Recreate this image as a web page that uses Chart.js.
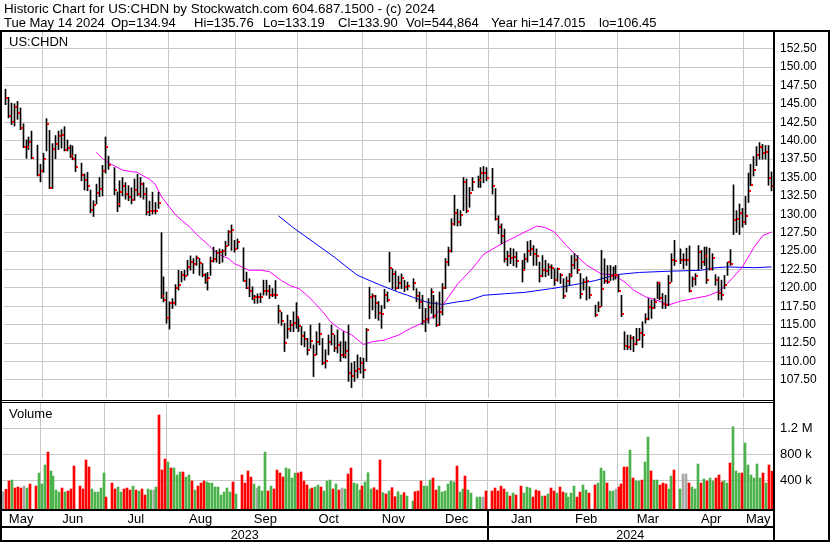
<!DOCTYPE html>
<html>
<head>
<meta charset="utf-8">
<script src="https://cdn.jsdelivr.net/npm/chart.js@4.4.1/dist/chart.umd.min.js"></script>
<style>
  html, body { margin: 0; padding: 0; background: #ffffff; }
  #wrap { position: relative; width: 830px; height: 543px; overflow: hidden; background: #ffffff; }
  #wrap canvas { position: absolute; left: 0; }
  #priceCanvas { top: 0; }
  #volCanvas { top: 400px; }
</style>
</head>
<body>
<div id="wrap">
  <canvas id="priceCanvas" width="830" height="402"></canvas>
  <canvas id="volCanvas" width="830" height="143"></canvas>
</div>
<script>
// ================= DATA (one entry per weekday, 15 May 2023 .. 14 May 2024; null = market holiday) =================
const highs = [
  // May 2023
  147.0,145.9,145.1,145.0,145.35,144.45,142.3,140.1,140.5,141.3,null,139.4,136.8,
  // Jun
  138.3,143.0,141.4,139.6,140.7,141.3,141.5,141.9,140.1,139.4,139.3,138.15,null,136.95,135.5,135.7,133.3,131.85,134.1,135.0,136.65,140.5,
  // Jul
  137.9,null,136.35,133.05,134.55,135.0,134.3,133.9,133.6,134.8,135.45,135.0,134.3,133.6,131.8,133.0,131.6,133.0,127.5,121.5,119.45,
  // Aug
  118.1,118.55,120.45,122.4,122.25,122.4,123.75,124.35,124.0,124.35,124.0,123.3,121.95,122.1,124.2,125.55,125.1,125.3,125.2,126.35,127.8,128.55,126.45,
  // Sep
  126.65,null,125.45,122.15,121.25,120.15,119.0,119.2,119.3,121.05,121.05,120.35,119.9,121.0,117.65,116.7,115.2,116.3,115.6,116.75,118.0,
  // Oct
  115.85,114.75,114.05,113.15,114.95,112.25,114.05,115.2,113.15,111.6,113.6,114.95,113.6,114.3,112.7,114.05,112.7,114.95,109.8,110.0,110.9,110.55,
  // Nov
  110.45,114.5,120.1,119.2,119.0,118.15,117.6,119.8,119.45,124.85,122.6,122.3,121.6,121.9,121.05,120.8,null,121.25,119.9,119.45,119.0,117.2,
  // Dec
  118.55,119.9,119.0,118.1,119.45,120.6,124.0,125.55,129.4,132.6,130.7,130.5,135.0,134.8,133.65,135.0,null,135.2,136.35,136.5,136.35,
  // Jan 2024
  null,136.25,133.5,129.8,128.7,128.0,125.0,125.4,125.3,124.9,null,123.75,124.65,126.3,126.45,125.75,125.3,123.5,124.4,123.75,123.3,123.15,122.6,
  // Feb
  122.7,121.95,121.25,121.5,121.95,124.4,124.65,124.4,121.95,121.25,121.5,120.15,null,117.65,118.1,125.1,123.95,123.05,123.05,122.85,123.05,
  // Mar
  121.7,119.0,114.05,113.6,113.6,113.4,114.5,114.5,115.4,116.5,118.55,118.35,118.55,120.8,120.8,119.25,119.0,121.7,124.65,126.45,null,
  // Apr
  125.3,124.65,125.4,125.7,121.5,121.95,125.75,125.1,125.55,125.55,125.4,124.65,121.8,121.5,121.05,121.7,123.5,125.2,134.0,130.5,131.4,130.8,
  // May 2024
  132.45,135.6,136.8,137.85,139.2,139.75,139.5,139.35,139.35,135.76
];
const lows = [
  144.9,143.1,142.2,142.0,142.9,141.5,139.05,137.6,138.8,137.55,null,135.2,134.4,
  135.7,138.6,133.5,133.5,137.55,138.8,139.0,138.6,138.6,137.7,137.4,135.8,null,134.55,133.3,133.2,130.2,129.7,131.4,132.4,132.5,135.6,
  136.1,null,132.65,130.35,131.0,132.5,132.05,131.85,131.4,131.9,132.5,132.3,132.05,129.9,129.8,130.05,130.05,130.8,118.55,118.1,115.2,
  114.4,117.2,117.65,119.7,120.8,121.05,121.7,122.4,121.95,123.05,121.7,121.5,120.6,119.7,121.7,123.5,123.5,123.3,123.5,124.4,125.75,125.1,124.85,
  125.3,null,120.9,119.9,118.8,118.4,117.9,117.9,118.0,119.0,119.0,118.55,118.8,118.55,115.2,114.9,111.35,113.15,114.05,114.05,114.5,
  114.05,112.25,112.0,110.9,111.8,107.95,110.9,112.25,109.55,109.1,110.9,112.25,111.35,111.15,110.0,110.5,110.45,107.3,106.45,107.3,107.75,108.4,
  107.75,110.0,115.8,117.0,115.85,115.6,114.5,117.2,118.1,120.8,119.9,119.7,119.9,119.9,119.5,119.7,null,119.7,118.1,117.2,115.0,114.05,
  115.2,116.55,115.85,114.75,114.9,116.3,119.9,123.0,124.85,128.5,128.4,128.45,130.5,130.2,130.95,133.2,null,133.65,133.65,134.3,134.55,
  null,132.75,129.2,127.35,126.0,123.5,123.0,123.3,123.0,122.8,null,120.8,122.5,123.5,124.4,123.05,123.05,120.8,121.5,121.5,121.7,121.25,120.35,
  120.9,120.6,118.55,119.45,120.35,121.5,122.6,121.95,118.55,119.7,118.35,118.55,null,116.1,116.75,117.5,120.6,120.6,121.0,121.05,121.2,
  119.45,116.1,111.6,111.6,111.6,111.35,112.25,112.9,111.9,115.2,115.65,115.85,117.2,118.55,118.35,117.2,117.2,117.6,120.8,123.05,null,
  123.3,122.6,123.05,119.45,120.15,120.35,122.4,122.6,123.05,120.6,122.4,122.4,120.35,118.35,118.35,119.9,121.7,123.05,127.25,127.55,127.25,128.25,
  128.6,131.6,133.9,135.2,136.6,137.5,137.5,137.5,133.95,133.19
];
const closes = [
  145.85,143.3,142.6,144.55,143.8,141.7,139.1,139.1,139.85,137.6,null,135.3,135.85,
  137.5,142.25,133.6,138.9,139.55,140.6,140.8,138.8,139.05,137.9,137.55,136.4,null,135.3,134.7,133.8,130.6,131.3,132.9,133.45,135.85,139.1,
  136.65,null,133.35,131.4,133.05,133.9,132.75,132.3,131.9,133.35,132.75,134.1,132.8,130.3,130.4,130.5,130.5,131.55,118.85,118.35,115.85,
  118.0,117.95,119.95,120.45,121.7,121.6,122.9,123.5,123.2,124.0,123.4,121.75,121.1,121.35,123.7,123.95,124.8,124.85,125.0,125.75,127.65,127.8,125.3,
  126.2,null,121.0,120.0,119.55,118.6,118.7,118.7,118.8,119.55,119.6,119.0,119.1,119.0,116.9,115.5,112.5,114.4,114.95,115.2,116.1,
  114.8,113.45,113.05,111.6,112.8,110.9,112.7,113.7,109.8,110.1,112.6,113.7,111.9,112.25,110.9,110.9,111.45,108.5,108.05,108.65,109.0,109.85,
  108.9,114.3,118.8,118.9,117.9,116.65,116.4,119.0,118.3,122.7,121.85,120.0,120.7,121.4,120.1,120.3,null,120.7,118.9,118.1,115.5,115.75,
  117.4,119.5,116.2,114.95,116.7,120.0,123.5,125.0,128.75,130.2,128.95,129.95,134.4,130.45,132.9,134.4,null,134.7,135.6,135.6,134.95,
  null,133.85,129.4,128.3,127.1,123.9,124.3,124.05,124.2,123.7,null,122.4,123.9,125.0,125.3,124.6,124.4,121.6,122.4,122.3,122.85,122.7,121.05,
  122.5,121.8,118.9,120.9,121.7,123.05,123.75,122.4,119.15,120.8,121.0,119.0,null,116.3,117.4,119.9,120.95,120.8,121.6,121.7,121.7,
  119.55,116.4,112.1,112.0,113.15,112.35,112.9,113.9,113.6,115.75,117.45,117.3,118.1,120.6,118.65,117.75,117.65,120.7,123.75,123.6,null,
  123.85,123.85,123.85,119.55,121.25,121.6,124.85,123.5,124.4,121.05,122.6,124.05,121.05,119.25,119.0,120.45,123.5,123.2,129.2,129.4,130.2,129.0,
  129.8,133.2,134.0,136.0,138.05,139.2,138.3,138.5,134.9,133.9
];
// volume in thousands of shares
const volumesK = [
  232,268,395,410,288,303,288,318,288,349,null,318,517,
  349,640,838,548,471,257,227,288,227,242,273,624,null,318,273,716,609,273,227,227,288,517,
  150,null,364,273,303,227,273,288,257,318,257,242,273,181,273,257,257,303,1404,563,731,
  685,594,594,487,533,533,456,487,395,257,318,364,395,380,364,364,303,303,181,227,288,227,380,
  196,null,487,364,548,456,349,288,318,242,838,242,318,273,563,517,456,594,578,441,517,
  517,533,395,334,273,288,303,334,303,242,395,410,273,349,257,288,273,502,594,364,350,258,
  319,380,522,273,293,258,716,217,197,243,293,156,232,182,217,166,null,90,232,242,395,318,
  318,410,441,257,318,227,242,349,395,380,624,227,273,471,257,211,null,150,150,150,242,
  null,242,288,242,318,273,227,166,211,181,null,318,211,303,288,150,257,242,166,166,196,288,242,
  211,303,227,211,150,211,318,150,227,334,257,211,null,334,364,594,548,364,242,242,273,
  303,349,609,609,868,441,395,395,410,685,1067,548,410,410,334,364,349,273,471,563,null,
  273,502,502,364,303,273,655,364,426,395,441,395,441,487,380,395,364,670,1223,548,517,517,
  976,640,487,441,655,441,517,364,640,545
];
// moving averages: weekday index -> value
const magentaIdx = [31,33,36,40,43,45,47,49,51,53,56,58,60,63,65,67,69,71,74,76,78,83,87,90,94,97,100,103,105,108,111,114,118,122,125,129,134,138,143,147,151,154,159,163,170,177,181,184,187,191,195,198,203,207,211,214,218,222,226,230,235,239,243,246,251,255,258,261];
const magentaVal = [138.4,137.6,136.8,136.0,135.8,135.7,135.2,134.8,134.1,132.5,130.9,129.9,129.2,128.2,127.3,126.6,125.9,125.1,124.3,124.0,123.3,122.4,122.4,122.2,121.0,120.3,119.9,118.9,118.1,116.8,115.3,114.4,113.6,112.3,112.7,112.9,113.6,114.5,115.4,116.5,118.8,120.5,122.6,124.6,126.2,127.6,128.4,128.2,127.6,125.8,124.2,123.1,121.9,121.8,120.8,119.7,118.8,118.3,117.7,118.2,118.6,118.9,119.5,120.6,122.8,125.5,127.1,127.6];
const blueIdx = [93,98,105,112,118,120,127,134,137,139,144,149,154,158,163,170,177,186,189,194,201,208,216,225,237,241,246,255,261];
const blueVal = [129.8,128.2,126.2,124.2,122.3,121.7,120.5,119.4,119.0,118.7,118.0,117.75,118.1,118.3,119.0,119.2,119.4,119.9,120.1,120.45,121.0,121.8,122.1,122.25,122.4,122.7,122.85,122.75,122.85];

const priceTicks = [107.5,110,112.5,115,117.5,120,122.5,125,127.5,130,132.5,135,137.5,140,142.5,145,147.5,150,152.5];
const volTicks = [400000, 800000, 1200000];
const volTickLabels = ['400 k', '800 k', '1.2 M'];
const monthNames = ['Jan','Feb','Mar','Apr','May','Jun','Jul','Aug','Sep','Oct','Nov','Dec'];
const headerLine1 = 'Historic Chart for US:CHDN by Stockwatch.com 604.687.1500 - (c) 2024';
const headerLine2 = ['Tue May 14 2024','Op=134.94','Hi=135.76','Lo=133.19','Cl=133.90','Vol=544,864','Year hi=147.015','lo=106.45'];
const symbolLabel = 'US:CHDN';
const volumeLabel = 'Volume';

// ================= BUILD =================
const FONT = '"Liberation Sans", Arial, Helvetica, sans-serif';
const GRID = '#c8c8c8';
const GREEN = '#4cb34c';
const RED = '#ff0000';
const GRAY = '#a8a8a8';
Chart.defaults.font.family = FONT;
Chart.defaults.color = '#000';

// weekday calendar labels
const labels = [];
for (let d = new Date(Date.UTC(2023, 4, 15)); d <= new Date(Date.UTC(2024, 4, 14)); d.setUTCDate(d.getUTCDate() + 1)) {
  const wd = d.getUTCDay();
  if (wd !== 0 && wd !== 6) labels.push(d.toISOString().slice(0, 10));
}
const monthStarts = [];
labels.forEach((d, i) => { if (i > 0 && d.slice(5, 7) !== labels[i - 1].slice(5, 7)) monthStarts.push(i); });
const monthSet = new Set(monthStarts);
const yearStart = labels.findIndex(d => d.startsWith('2024'));

function sparse(idx, val) { const a = labels.map(() => null); idx.forEach((k, n) => { a[k] = val[n]; }); return a; }

const hlData = lows.map((l, i) => (l == null ? null : [l, highs[i]]));
const volColors = closes.map((c, i) => {
  if (c == null) return 'rgba(0,0,0,0)';
  let j = i - 1; while (j >= 0 && closes[j] == null) j--;
  if (j < 0 || closes[j] === c) return GRAY;
  return c > closes[j] ? GREEN : RED;
});

// close tick: small red mark to the right of the high-low bar
const tickImg = document.createElement('canvas');
tickImg.width = 5; tickImg.height = 2;
(function () { const g = tickImg.getContext('2d'); g.fillStyle = RED; g.fillRect(3, 0, 2, 2); })();

function xScale() {
  return {
    type: 'category', offset: true,
    grid: { offset: true, drawTicks: false,
      color: c => (monthSet.has(c.index) ? GRID : 'rgba(0,0,0,0)'),
      lineWidth: c => (monthSet.has(c.index) ? 1 : 0) },
    ticks: { display: false, autoSkip: false },
    border: { display: false }
  };
}
function boundaryPx(xs, i) {
  const step = xs.getPixelForValue(1) - xs.getPixelForValue(0);
  return xs.getPixelForValue(i) - step / 2;
}

// snap thin marks onto the pixel grid so they render crisp (positions still come from the scales)
const snapPlugin = {
  id: 'snap',
  beforeDatasetsDraw(chart) {
    chart.data.datasets.forEach((ds, di) => {
      const meta = chart.getDatasetMeta(di);
      meta.data.forEach(el => {
        if (!isFinite(el.x)) return;
        if (meta.type === 'bar') {
          el.x = (ds.barThickness % 2 === 1) ? Math.floor(el.x) + 0.5 : Math.round(el.x);
        } else if (ds.pointStyle === tickImg && isFinite(el.y)) {
          el.x = Math.floor(el.x) + 0.5; el.y = Math.round(el.y);
        }
      });
    });
  }
};

const pricePlugin = {
  id: 'priceDecor',
  beforeDraw(chart) { const c = chart.ctx; c.save(); c.fillStyle = '#fff'; c.fillRect(0, 0, chart.width, chart.height); c.restore(); },
  afterDraw(chart) {
    const ctx = chart.ctx, a = chart.chartArea;
    ctx.save();
    ctx.fillStyle = '#000';
    ctx.textAlign = 'left'; ctx.textBaseline = 'alphabetic';
    ctx.font = '13.4px ' + FONT;
    ctx.fillText(headerLine1, 4, 12.5);
    ctx.font = '13px ' + FONT;
    const hx = [4, 111, 194, 263, 338, 406, 491, 599];
    headerLine2.forEach((t, k) => ctx.fillText(t, hx[k], 26.5));
    ctx.fillRect(0, 30, 830, 2);          // header rule
    ctx.fillRect(0, 30, 2, 372);           // left border
    ctx.fillRect(a.right, 30, 2, 372);     // plot right border
    ctx.fillRect(828, 30, 2, 372);         // outer right border
    ctx.fillText(symbolLabel, 9, 46);
    ctx.restore();
  }
};

const volPlugin = {
  id: 'volDecor',
  afterDraw(chart) {
    const ctx = chart.ctx, a = chart.chartArea, xs = chart.scales.x;
    ctx.save();
    ctx.fillStyle = '#000';
    const r = a.right + 2;
    ctx.fillRect(0, 0, r, 1);      // double separator line
    ctx.fillRect(0, 2, r, 1);
    ctx.fillRect(0, 109, r, 2);    // volume panel bottom
    ctx.fillRect(0, 126, r, 2);    // month row bottom
    ctx.fillRect(0, 140, 830, 2);  // outer bottom border
    ctx.fillRect(0, 0, 2, 142);
    ctx.fillRect(a.right, 0, 2, 142);
    ctx.fillRect(828, 0, 2, 142);
    const jx = boundaryPx(xs, yearStart);
    ctx.fillRect(Math.round(jx) - 1, 109, 2, 32);

    ctx.font = '13px ' + FONT; ctx.textAlign = 'left'; ctx.textBaseline = 'alphabetic';
    ctx.fillText(volumeLabel, 9, 18);

    ctx.textAlign = 'center';
    const segs = [0].concat(monthStarts).concat([labels.length]);
    for (let k = 0; k < segs.length - 1; k++) {
      const left = k === 0 ? a.left : boundaryPx(xs, segs[k]);
      const right = k === segs.length - 2 ? a.right : boundaryPx(xs, segs[k + 1]);
      const name = monthNames[parseInt(labels[segs[k]].slice(5, 7), 10) - 1];
      ctx.fillText(name, (left + right) / 2, 123);
    }
    ctx.font = '12.5px ' + FONT;
    ctx.fillText(labels[0].slice(0, 4), (a.left + jx) / 2, 139);
    ctx.fillText(labels[yearStart].slice(0, 4), (jx + a.right) / 2, 139);
    ctx.restore();
  }
};

new Chart(document.getElementById('priceCanvas'), {
  data: {
    labels,
    datasets: [
      { type: 'line', data: closes, showLine: false, pointStyle: tickImg, pointRadius: 3, pointHoverRadius: 3, order: 0 },
      { type: 'bar', data: hlData, backgroundColor: '#000', barThickness: 1, order: 1 },
      { type: 'line', data: sparse(magentaIdx, magentaVal), borderColor: '#ff00ff', borderWidth: 1, pointRadius: 0, spanGaps: true, tension: 0, order: 2 },
      { type: 'line', data: sparse(blueIdx, blueVal), borderColor: '#0000ff', borderWidth: 1, pointRadius: 0, spanGaps: true, tension: 0, order: 3 }
    ]
  },
  options: {
    responsive: false, animation: false, events: [],
    layout: { padding: { top: 32, left: 2, right: 0, bottom: 2 } },
    plugins: { legend: { display: false }, tooltip: { enabled: false } },
    scales: {
      x: xScale(),
      y: {
        position: 'right', min: 105.04, max: 154.77,
        afterBuildTicks: s => { s.ticks = priceTicks.map(v => ({ value: v })); },
        afterFit: s => { s.width = 57; s.paddingTop = 0; s.paddingBottom = 0; },
        grid: { color: GRID, drawTicks: false },
        border: { display: false },
        ticks: { padding: 7, font: { size: 12 }, color: '#000', callback: v => Number(v).toFixed(2) }
      }
    }
  },
  plugins: [snapPlugin, pricePlugin]
});

const VOL_MIN = -32000, VOL_MAX = 1602000;
new Chart(document.getElementById('volCanvas'), {
  data: {
    labels,
    datasets: [
      { type: 'bar', data: volumesK.map(v => (v == null ? null : v * 1000)), backgroundColor: volColors, barThickness: 2, base: VOL_MIN }
    ]
  },
  options: {
    responsive: false, animation: false, events: [],
    layout: { padding: { top: 2, left: 2, right: 0, bottom: 34 } },
    plugins: { legend: { display: false }, tooltip: { enabled: false } },
    scales: {
      x: xScale(),
      y: {
        position: 'right', min: VOL_MIN, max: VOL_MAX,
        afterBuildTicks: s => { s.ticks = volTicks.map(v => ({ value: v })); },
        afterFit: s => { s.width = 57; s.paddingTop = 0; s.paddingBottom = 0; },
        grid: { color: GRID, drawTicks: false },
        border: { display: false },
        ticks: { padding: 7, font: { size: 13 }, color: '#000',
          callback: v => { const k = volTicks.indexOf(Number(v)); return k >= 0 ? volTickLabels[k] : ''; } }
      }
    }
  },
  plugins: [snapPlugin, volPlugin]
});
</script>
</body>
</html>
